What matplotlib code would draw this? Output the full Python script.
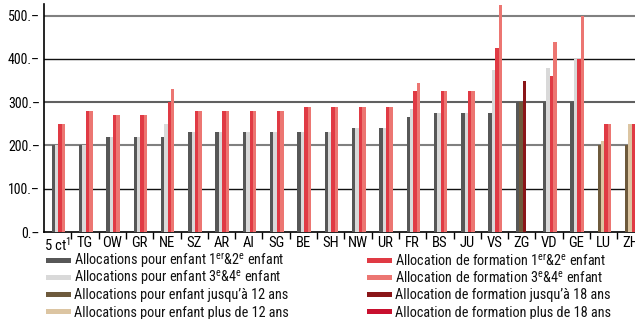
# Family allowances by canton - grouped bar chart
import numpy as np
import matplotlib.pyplot as plt
from matplotlib import font_manager
from matplotlib.patches import Rectangle

# pick a condensed sans that is installed
font = 'DejaVu Sans'
for name in ['Roboto Condensed', 'Archivo Narrow', 'PT Sans Narrow',
             'Fira Sans Condensed', 'Liberation Sans Narrow', 'Open Sans Condensed']:
    try:
        font_manager.findfont(font_manager.FontProperties(family=name),
                              fallback_to_default=False)
        font = name
        break
    except ValueError:
        pass

plt.rcParams['font.family'] = [font, 'DejaVu Sans']
plt.rcParams['mathtext.fontset'] = 'custom'
plt.rcParams['mathtext.rm'] = font
plt.rcParams['mathtext.it'] = font

cantons = ['5 ct$^1$', 'TG', 'OW', 'GR', 'NE', 'SZ', 'AR', 'AI', 'SG', 'BE', 'SH',
           'NW', 'UR', 'FR', 'BS', 'JU', 'VS', 'ZG', 'VD', 'GE', 'LU', 'ZH']
nan = np.nan

# Allocations pour enfant
alloc_12 = [200, 200, 220, 220, 220, 230, 230, 230, 230, 230, 230,
            240, 240, 265, 275, 275, 275, 300, 300, 300, nan, nan]
alloc_34 = [200, 200, 220, 220, 250, 230, 230, 230, 230, 230, 230,
            240, 240, 285, 275, 275, 375, nan, 380, 400, nan, nan]
alloc_to12 = [nan] * 17 + [300, nan, nan, 200, 200]
alloc_over12 = [nan] * 20 + [210, 250]

# Allocations de formation
form_12 = [250, 280, 270, 270, 300, 280, 280, 280, 280, 290, 290,
           290, 290, 325, 325, 325, 425, nan, 360, 400, 250, 250]
form_34 = [250, 280, 270, 270, 330, 280, 280, 280, 280, 290, 290,
           290, 290, 345, 325, 325, 525, nan, 440, 500, 250, 250]
form_to18 = [nan] * 17 + [350, nan, nan, nan, nan]
form_over18 = [nan] * 22

series = [alloc_12, alloc_34, alloc_to12, alloc_over12,
          form_12, form_34, form_to18, form_over18]
labels = [
    r'Allocations pour enfant 1$^{\mathrm{er}}$&2$^{\mathrm{e}}$ enfant',
    r'Allocations pour enfant 3$^{\mathrm{e}}$&4$^{\mathrm{e}}$ enfant',
    'Allocations pour enfant jusqu\u2019à 12 ans',
    'Allocations pour enfant plus de 12 ans',
    r'Allocation de formation 1$^{\mathrm{er}}$&2$^{\mathrm{e}}$ enfant',
    r'Allocation de formation 3$^{\mathrm{e}}$&4$^{\mathrm{e}}$ enfant',
    'Allocation de formation jusqu\u2019à 18 ans',
    'Allocation de formation plus de 18 ans',
]
colors = ['#575757', '#d9d9d9', '#6e5a3c', '#dcc5a2',
          '#e03a44', '#ec7672', '#8a1518', '#c8102e']

W, H = 635, 319
fig = plt.figure(figsize=(W / 100, H / 100), dpi=100)
ax = fig.add_axes([44 / W, 1 - 232 / H, 1 - 44 / W, 228 / H])

bar_w = 0.125
start = 0.28
data = np.array(series, dtype=float)
for i in range(len(cantons)):
    slot = 0
    for s in range(len(series)):
        v = data[s, i]
        if np.isnan(v):
            continue
        ax.bar(i + start + slot * bar_w, v, width=bar_w, align='edge',
               color=colors[s], linewidth=0, zorder=3)
        slot += 1

# horizontal rules
for y, c, lw in [(100, '#111111', 1.0), (200, '#808080', 1.5), (300, '#606060', 1.5),
                 (400, '#111111', 1.0), (500, '#808080', 1.5)]:
    ax.axhline(y, color=c, linewidth=lw, zorder=1)

ax.set_ylim(0, 527)
ax.set_xlim(0, (W - 44) / 27.3)
ax.set_yticks([0, 100, 200, 300, 400, 500])
ax.set_yticklabels(['0.\u2013', '100.\u2013', '200.\u2013', '300.\u2013', '400.\u2013', '500.\u2013'],
                   fontsize=10)
ax.tick_params(axis='y', length=0, pad=3)

ax.set_xticks(np.arange(len(cantons)) + 0.5)
ax.set_xticklabels(cantons, fontsize=10.5)
ax.tick_params(axis='x', which='major', length=0, pad=3)
ax.set_xticks(np.arange(1, len(cantons)), minor=True)
ax.tick_params(axis='x', which='minor', length=5, width=1, color='black', direction='out')

for side in ['top', 'right']:
    ax.spines[side].set_visible(False)
ax.spines['left'].set_linewidth(1.2)
ax.spines['bottom'].set_linewidth(1.2)

# legend, two columns of four rows (pixel layout)
row_y = [260.5, 277.5, 294.5, 311.5]
col_x = [46, 367]
for k, (c, lab) in enumerate(zip(colors, labels)):
    col, row = divmod(k, 4)
    x0, y0 = col_x[col], row_y[row]
    fig.add_artist(Rectangle((x0 / W, 1 - (y0 + 2.5) / H), 25 / W, 5 / H,
                             transform=fig.transFigure, facecolor=c, edgecolor='none'))
    fig.text((x0 + 28) / W, 1 - (y0 + 5) / H, lab, fontsize=10.3,
             ha='left', va='baseline', color='#111111')

fig.savefig('out.png', dpi=100, facecolor='white')
